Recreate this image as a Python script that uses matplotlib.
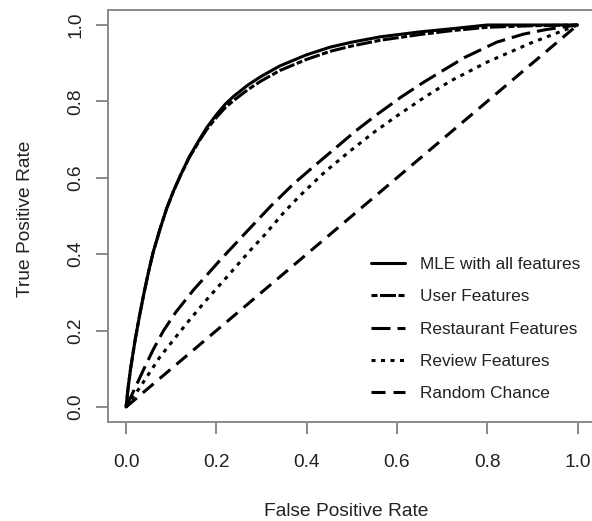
import matplotlib
matplotlib.use("Agg")
import matplotlib.pyplot as plt

# ---- data ----
mle_fpr = [0, 0.005, 0.01, 0.02, 0.03, 0.04, 0.05, 0.06, 0.075, 0.09, 0.105, 0.12,
           0.14, 0.164, 0.179, 0.2, 0.22, 0.238, 0.27, 0.3, 0.341, 0.4, 0.452, 0.5,
           0.563, 0.651, 0.72, 0.8, 0.9, 1.0]
mle_tpr = [0, 0.055, 0.10, 0.175, 0.24, 0.30, 0.355, 0.405, 0.465, 0.52, 0.565, 0.605,
           0.655, 0.703, 0.732, 0.765, 0.793, 0.813, 0.843, 0.866, 0.893, 0.922, 0.942,
           0.955, 0.969, 0.982, 0.99, 1.0, 1.0, 1.0]

user_fpr = mle_fpr
user_tpr = [0, 0.055, 0.10, 0.175, 0.24, 0.30, 0.355, 0.405, 0.465, 0.52, 0.565, 0.605,
            0.653, 0.70, 0.727, 0.758, 0.784, 0.802, 0.831, 0.854, 0.881, 0.91, 0.931,
            0.945, 0.96, 0.975, 0.985, 0.994, 0.998, 1.0]

rest_fpr = [0, 0.02, 0.038, 0.06, 0.083, 0.11, 0.149, 0.208, 0.26, 0.319, 0.37, 0.415,
            0.459, 0.51, 0.555, 0.61, 0.659, 0.695, 0.75, 0.821, 0.88, 0.93, 1.0]
rest_tpr = [0, 0.05, 0.096, 0.15, 0.20, 0.248, 0.306, 0.384, 0.45, 0.524, 0.583, 0.629,
            0.673, 0.724, 0.765, 0.812, 0.85, 0.876, 0.915, 0.955, 0.976, 0.988, 1.0]

rev_fpr = [0, 0.031, 0.075, 0.11, 0.142, 0.18, 0.223, 0.275, 0.308, 0.35, 0.385, 0.44,
           0.496, 0.55, 0.6, 0.66, 0.718, 0.8, 0.895, 1.0]
rev_tpr = [0, 0.052, 0.131, 0.183, 0.23, 0.283, 0.34, 0.41, 0.452, 0.51, 0.553, 0.615,
           0.67, 0.72, 0.762, 0.81, 0.853, 0.903, 0.952, 1.0]

rand_fpr = [0, 1]
rand_tpr = [0, 1]

labels = ["MLE with all features", "User Features", "Restaurant Features",
          "Review Features", "Random Chance"]
ticks = [0.0, 0.2, 0.4, 0.6, 0.8, 1.0]
tick_labels = ["0.0", "0.2", "0.4", "0.6", "0.8", "1.0"]

# ---- style ----
plt.rcParams['font.family'] = ['Liberation Sans', 'DejaVu Sans']
plt.rcParams['lines.scale_dashes'] = False
TXT = '#222222'
GRAY = '#8a8a8a'
PX = 0.72  # points per pixel at dpi 100

W, H = 592, 521
fig = plt.figure(figsize=(W / 100, H / 100), dpi=100)
left, right, top, bottom = 108, 595.6, 9.7, 422.3
ax = fig.add_axes([left / W, 1 - bottom / H, (right - left) / W, (bottom - top) / H])

lw = 2.2
ax.plot(mle_fpr, mle_tpr, color='black', lw=lw, solid_capstyle='round',
        solid_joinstyle='round', label=labels[0])
ax.plot(user_fpr, user_tpr, color='black', lw=lw,
        dashes=(6 * PX, 2.5 * PX, 16 * PX, 2.5 * PX), label=labels[1])
ax.plot(rest_fpr, rest_tpr, color='black', lw=lw,
        dashes=(19 * PX, 7 * PX), label=labels[2])
ax.plot(rev_fpr, rev_tpr, color='black', lw=lw,
        dashes=(4 * PX, 5.5 * PX), label=labels[3])
ax.plot(rand_fpr, rand_tpr, color='black', lw=lw,
        dashes=(14 * PX, 8 * PX), label=labels[4])

ax.set_xlim(-0.04, 1.04)
ax.set_ylim(-0.04, 1.04)
ax.set_xticks(ticks)
ax.set_xticklabels(tick_labels)
ax.set_yticks(ticks)
ax.set_yticklabels(tick_labels, rotation=90, va='center')

for s in ax.spines.values():
    s.set_color(GRAY)
    s.set_linewidth(1.4)
ax.tick_params(axis='both', direction='out', length=12 * PX, width=1.4,
               color=GRAY, labelsize=13.8, labelcolor=TXT)
ax.tick_params(axis='x', pad=14.5)
ax.tick_params(axis='y', pad=8.5)

fig.text(346 / W, 1 - 516 / H, "False Positive Rate", ha='center', va='baseline',
         fontsize=13.8, color=TXT)
fig.text(26 / W, 1 - 219 / H, "True Positive Rate", ha='center', va='center',
         rotation=90, fontsize=13.8, color=TXT)

leg = ax.legend(loc='upper left', bbox_to_anchor=(371 / W, 1 - 257 / H),
                bbox_transform=fig.transFigure, frameon=False, fontsize=12.4,
                handlelength=2.0, handletextpad=0.83, labelspacing=1.0,
                borderpad=0, borderaxespad=0)
for t in leg.get_texts():
    t.set_color(TXT)

fig.savefig("out.png", dpi=100)
